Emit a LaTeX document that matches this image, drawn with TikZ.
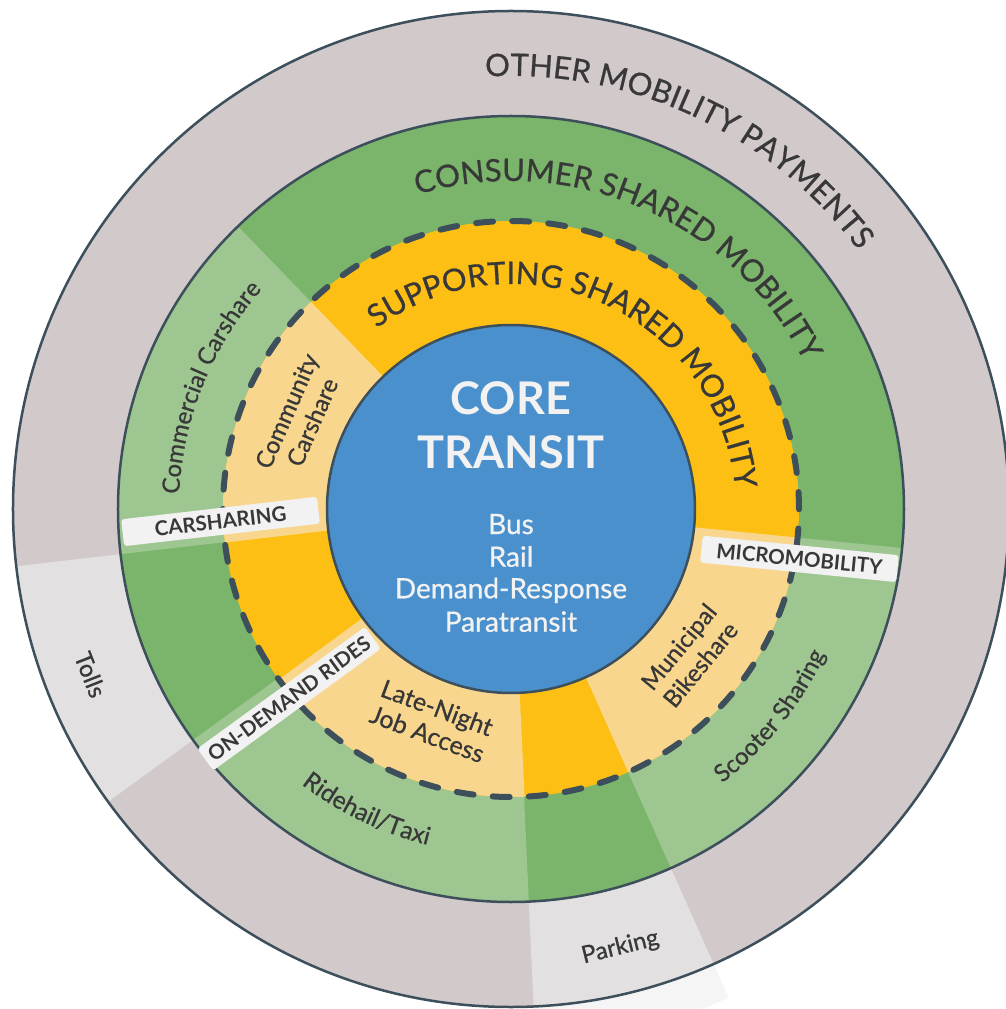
\documentclass[tikz,border=0pt]{standalone}
\usepackage{fontspec}
\setmainfont{Lato}
\newfontfamily\latomed{Lato}[FakeBold=0.7]
\usetikzlibrary{decorations.text,calc}
\definecolor{ringgray}{HTML}{D1C9CA}
\definecolor{lightgray}{HTML}{E3E0E1}
\definecolor{extgray}{HTML}{F5F5F5}
\definecolor{dkgreen}{HTML}{7AB56B}
\definecolor{ltgreen}{HTML}{9EC691}
\definecolor{orng}{HTML}{FDBF14}
\definecolor{ltorng}{HTML}{F9D68D}
\definecolor{coreblue}{HTML}{4A90CD}
\definecolor{edge}{HTML}{3C4F5B}
\definecolor{boxfill}{HTML}{F2F2F2}
\definecolor{txt}{HTML}{383838}
\definecolor{coretxt}{HTML}{F2F2F2}
\begin{document}
\begin{tikzpicture}[x=1pt,y=1pt,
  lbl/.style={fill=boxfill, rounded corners=3pt, minimum width=197pt, minimum height=27pt,
    inner xsep=6pt, inner ysep=0pt, text=txt, font=\fontsize{20.5}{20.5}\selectfont\bfseries},
  seg/.style={text=txt, font=\latomed\fontsize{24}{28}\selectfont, align=center},
  ringline/.style={draw=edge, line width=2.5pt},
  coretitle/.style={text=coretxt, font=\fontsize{45}{45}\selectfont\bfseries, anchor=base},
  corelist/.style={text=coretxt, font=\latomed\fontsize{28}{28}\selectfont, anchor=base}
]
\useasboundingbox (-511,-500) rectangle (494,509);

% parking extension beyond the outer circle
\fill[extgray] (272.6:498) -- (272.6:535) arc[start angle=272.6, end angle=294, radius=535]
  -- (294:498) arc[start angle=294, end angle=272.6, radius=498] -- cycle;

% outer gray ring
\fill[ringgray] (0,0) circle[radius=498];
\fill[lightgray] (0,0) -- (186.6:498) arc[start angle=186.6, end angle=216, radius=498] -- cycle;
\fill[lightgray] (0,0) -- (272.6:498) arc[start angle=272.6, end angle=294, radius=498] -- cycle;
\draw[ringline] (0,0) circle[radius=498];

% green ring
\fill[dkgreen] (0,0) circle[radius=393];
\fill[ltgreen] (0,0) -- (134:393) arc[start angle=134, end angle=186.6, radius=393] -- cycle;
\fill[ltgreen] (0,0) -- (216:393) arc[start angle=216, end angle=272.6, radius=393] -- cycle;
\fill[ltgreen] (0,0) -- (294:393) arc[start angle=294, end angle=354.3, radius=393] -- cycle;
\draw[ringline] (0,0) circle[radius=393];

% orange ring
\fill[orng] (0,0) circle[radius=288];
\fill[ltorng] (0,0) -- (134:288) arc[start angle=134, end angle=186.7, radius=288] -- cycle;
\fill[ltorng] (0,0) -- (216.3:288) arc[start angle=216.3, end angle=272.7, radius=288] -- cycle;
\fill[ltorng] (0,0) -- (294:288) arc[start angle=294, end angle=354.3, radius=288] -- cycle;
\draw[edge, line width=6pt, dash pattern=on 17pt off 19.19pt, line cap=round] (0,0) circle[radius=288];

% core
\fill[coreblue] (0,0) circle[radius=184];
\draw[ringline] (0,0) circle[radius=184];

% ring titles
\path[decorate, decoration={text along path, text align=center, text color=txt,
  text={|\latomed\fontsize{31}{31}\selectfont|OTHER MOBILITY PAYMENTS}}]
  (155:433) arc[start angle=155, end angle=-25, radius=433];
\path[decorate, decoration={text along path, text align=center, text color=txt,
  text={|\latomed\fontsize{31}{31}\selectfont|CONSUMER SHARED MOBILITY}}]
  (156.6:328) arc[start angle=156.6, end angle=-23.4, radius=328];
\path[decorate, decoration={text along path, text align=center, text color=txt,
  text={|\latomed\fontsize{31}{31}\selectfont|SUPPORTING SHARED MOBILITY}}]
  (155.9:225) arc[start angle=155.9, end angle=-24.1, radius=225];

% curved segment labels in the green ring
\path[decorate, decoration={text along path, text align=center, text color=txt,
  text={|\latomed\fontsize{24}{24}\selectfont|Commercial Carshare}}]
  (248:332) arc[start angle=248, end angle=68, radius=332];
\path[decorate, decoration={text along path, text align=center, text color=txt,
  text={|\latomed\fontsize{24.5}{24.5}\selectfont|Ridehail/Taxi}}]
  (154.4:346) arc[start angle=154.4, end angle=334.4, radius=346];
\path[decorate, decoration={text along path, text align=center, text color=txt,
  text={|\latomed\fontsize{24}{24}\selectfont|Scooter Sharing}}]
  (231.4:346) arc[start angle=231.4, end angle=411.4, radius=346];

% segment labels in the orange ring
\node[seg, rotate=66.4] (community) at (156.4:231) {Community\\Carshare};
\node[seg, rotate=-20.4, font=\latomed\fontsize{25}{28}\selectfont] (latenight) at (249.6:226) {Late-Night\\Job Access};
\node[seg, rotate=50.6] (municipal) at (320.6:231) {Municipal\\Bikeshare};

% gray ring labels
\node[seg, rotate=-68.5] (tolls) at (201.5:452) {Tolls};
\node[seg, rotate=14] (parking) at (284:452) {Parking};

% category boxes
\node[lbl, rotate=6.6] (carsharing) at ($(186.6:290)+(96.6:21)$) {CARSHARING};
\node[lbl, rotate=36] (ondemand) at ($(216:291)+(306:23)$) {ON-DEMAND RIDES};
\node[lbl, rotate=-5.7] (micro) at ($(354.3:292)+(264.3:21)$) {MICROMOBILITY};

% core texts
\node[coretitle] (core) at (0,94) {CORE};
\node[coretitle] (transit) at (0,40.7) {TRANSIT};
\node[corelist] (bus) at (0,-25) {Bus};
\node[corelist] (rail) at (0,-57.7) {Rail};
\node[corelist] (demand) at (0,-89.3) {Demand-Response};
\node[corelist] (para) at (0,-122.7) {Paratransit};
\end{tikzpicture}
\end{document}
